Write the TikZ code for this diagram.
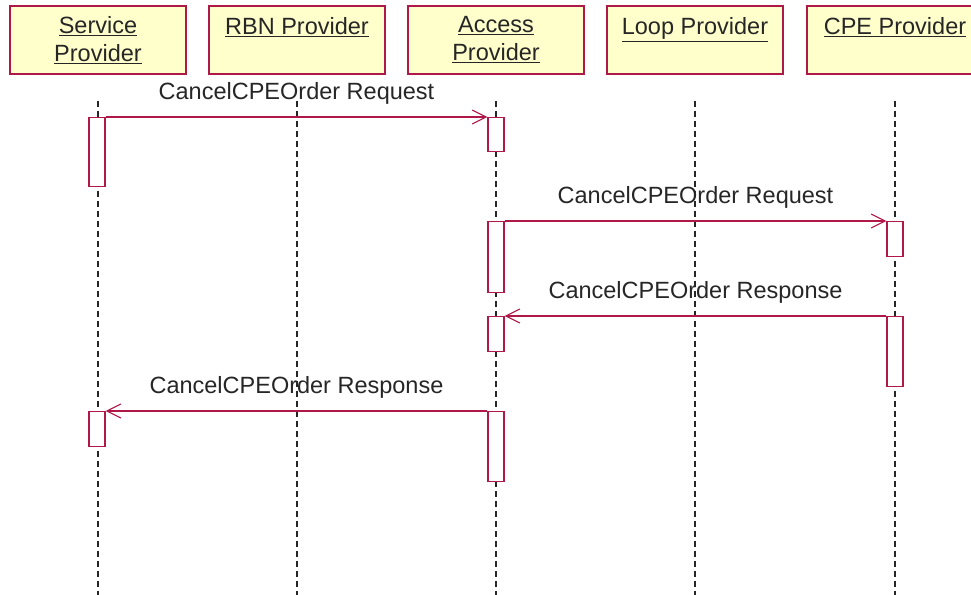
\documentclass[tikz,border=0pt]{standalone}
\usepackage{fontspec}
\setmainfont{Liberation Sans}
\usetikzlibrary{positioning,arrows.meta}

\definecolor{umlred}{RGB}{176,24,72}
\definecolor{umlfill}{RGB}{255,255,204}

\begin{document}
\begin{tikzpicture}[
    x=1pt, y=-1pt,
    font=\fontsize{23.5}{28}\selectfont,
    actor/.style     = {rectangle, draw=umlred, fill=umlfill, line width=1.6pt,
                        minimum width=176pt, minimum height=68pt,
                        align=center, inner sep=0pt, text=black!85},
    lifeline/.style  = {black!85, line width=1.4pt, dash pattern=on 6pt off 4pt},
    activation/.style= {rectangle, draw=umlred, fill=white, line width=1.3pt,
                        minimum width=16pt, inner sep=0pt, anchor=north},
    msg/.style       = {umlred, line width=1.3pt,
                        -{Straight Barb[length=14pt,width=14pt,line width=1.1pt]}},
    msglabel/.style  = {text=black!85, inner sep=12pt}
]
\useasboundingbox (0,0) rectangle (971,594);

% --- Participants -----------------------------------------------------------
\node[actor] (sp)  at (98,40)  {\underline{Service}\\\underline{Provider}};
\node[actor] (rbn) at (297,40) {\underline{RBN Provider}\\\mbox{}};
\node[actor] (ap)  at (496,40) {\underline{Access}\\\underline{Provider}};
\node[actor] (lp)  at (695,40) {\underline{Loop Provider}\\\mbox{}};
\node[actor] (cpe) at (895,40) {\underline{CPE Provider}\\\mbox{}};

% --- Lifelines ----------------------------------------------------------------
\foreach \p in {sp,rbn,ap,lp,cpe}
  \draw[lifeline] ([yshift=-26pt]\p.south) -- ([yshift=-520pt]\p.south);

% --- Activations --------------------------------------------------------------
\node[activation, minimum height=69pt] (sp1)  at (97,117)  {};
\node[activation, minimum height=34pt] (ap1)  at (496,117) {};
\node[activation, minimum height=71pt] (ap2)  at (496,221) {};
\node[activation, minimum height=35pt] (cpe1) at (895,221) {};
\node[activation, minimum height=70pt] (cpe2) at (895,316) {};
\node[activation, minimum height=35pt] (ap3)  at (496,316) {};
\node[activation, minimum height=70pt] (ap4)  at (496,411) {};
\node[activation, minimum height=35pt] (sp2)  at (97,411)  {};

% --- Messages -----------------------------------------------------------------
\draw[msg] (sp1.north east) -- node[msglabel,above]{CancelCPEOrder Request} (ap1.north west);
\draw[msg] (ap2.north east) -- node[msglabel,above]{CancelCPEOrder Request} (cpe1.north west);
\draw[msg] (cpe2.north west) -- node[msglabel,above]{CancelCPEOrder Response} (ap3.north east);
\draw[msg] (ap4.north west) -- node[msglabel,above]{CancelCPEOrder Response} (sp2.north east);

\end{tikzpicture}
\end{document}
